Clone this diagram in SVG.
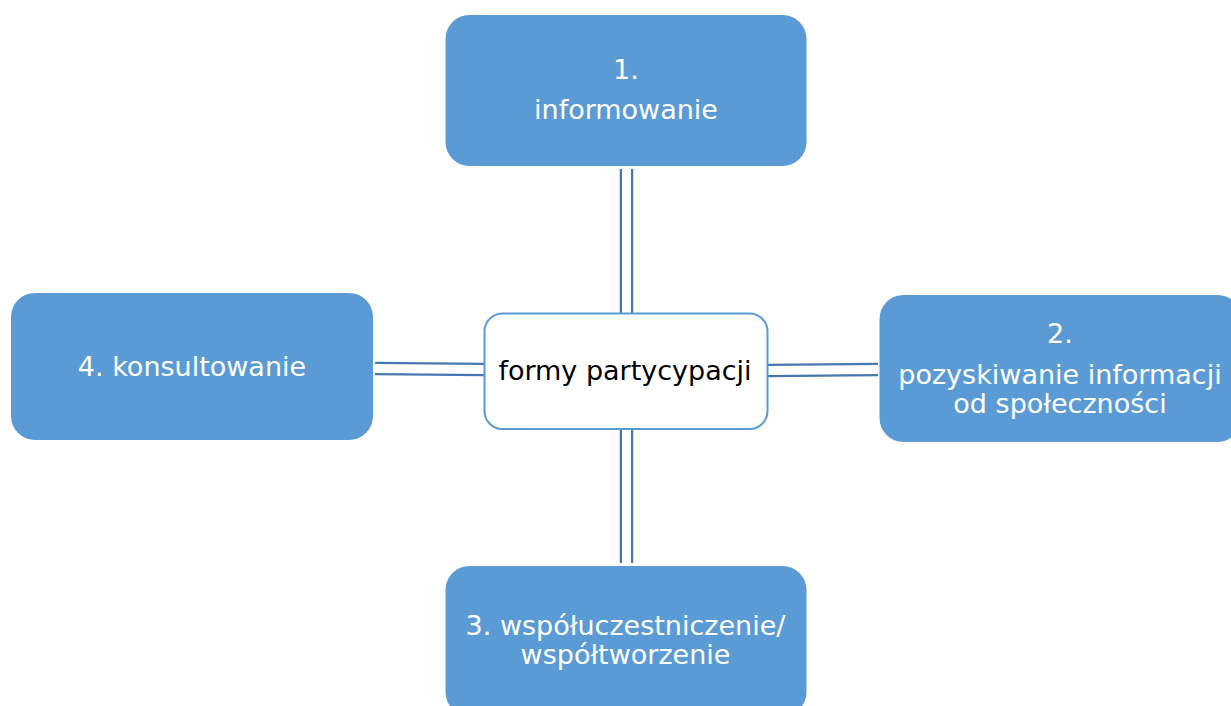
<svg xmlns="http://www.w3.org/2000/svg" width="1231" height="706" viewBox="0 0 1231 706">
<style>
.box{fill:#5b9bd5;}
.lbl{fill:#ffffff;font-family:"DejaVu Sans","Verdana",sans-serif;font-size:27px;text-anchor:middle;}
.hub{fill:#ffffff;stroke:#5b9bd5;stroke-width:2;}
.hubt{fill:#000000;font-family:"DejaVu Sans","Verdana",sans-serif;font-size:27px;text-anchor:middle;}
.co{stroke:#4677b0;stroke-width:13.5;fill:none;}
.ci{stroke:#ffffff;stroke-width:9;fill:none;}
</style>
<rect width="1231" height="706" fill="#ffffff"/>
<g id="connectors">
<line class="co" x1="626.5" y1="169" x2="626.5" y2="313"/>
<line class="ci" x1="626.5" y1="169" x2="626.5" y2="313"/>
<line class="co" x1="626.5" y1="429" x2="626.5" y2="563"/>
<line class="ci" x1="626.5" y1="429" x2="626.5" y2="563"/>
<line class="co" x1="375" y1="368.5" x2="484" y2="369.5"/>
<line class="ci" x1="375" y1="368.5" x2="484" y2="369.5"/>
<line class="co" x1="768" y1="370.5" x2="878" y2="369.5"/>
<line class="ci" x1="768" y1="370.5" x2="878" y2="369.5"/>
</g>
<g id="hub">
<rect class="hub" x="484.5" y="313.5" width="283" height="115.5" rx="18"/>
<text class="hubt" x="625" y="380">formy partycypacji</text>
</g>
<g id="node1">
<rect class="box" x="445.5" y="15" width="361" height="151" rx="24"/>
<text class="lbl" x="626" y="79">1.</text>
<text class="lbl" x="626" y="119">informowanie</text>
</g>
<g id="node2">
<rect class="box" x="879.5" y="295" width="362" height="147" rx="24"/>
<text class="lbl" x="1060" y="343">2.</text>
<text class="lbl" x="1060" y="384">pozyskiwanie informacji</text>
<text class="lbl" x="1060" y="412.5">od społeczności</text>
</g>
<g id="node3">
<rect class="box" x="445.5" y="566" width="361" height="150" rx="24"/>
<text class="lbl" x="625.5" y="635">3. współuczestniczenie/</text>
<text class="lbl" x="625.5" y="663.5">współtworzenie</text>
</g>
<g id="node4">
<rect class="box" x="11" y="293" width="362" height="147" rx="24"/>
<text class="lbl" x="192" y="375.5">4. konsultowanie</text>
</g>
</svg>
